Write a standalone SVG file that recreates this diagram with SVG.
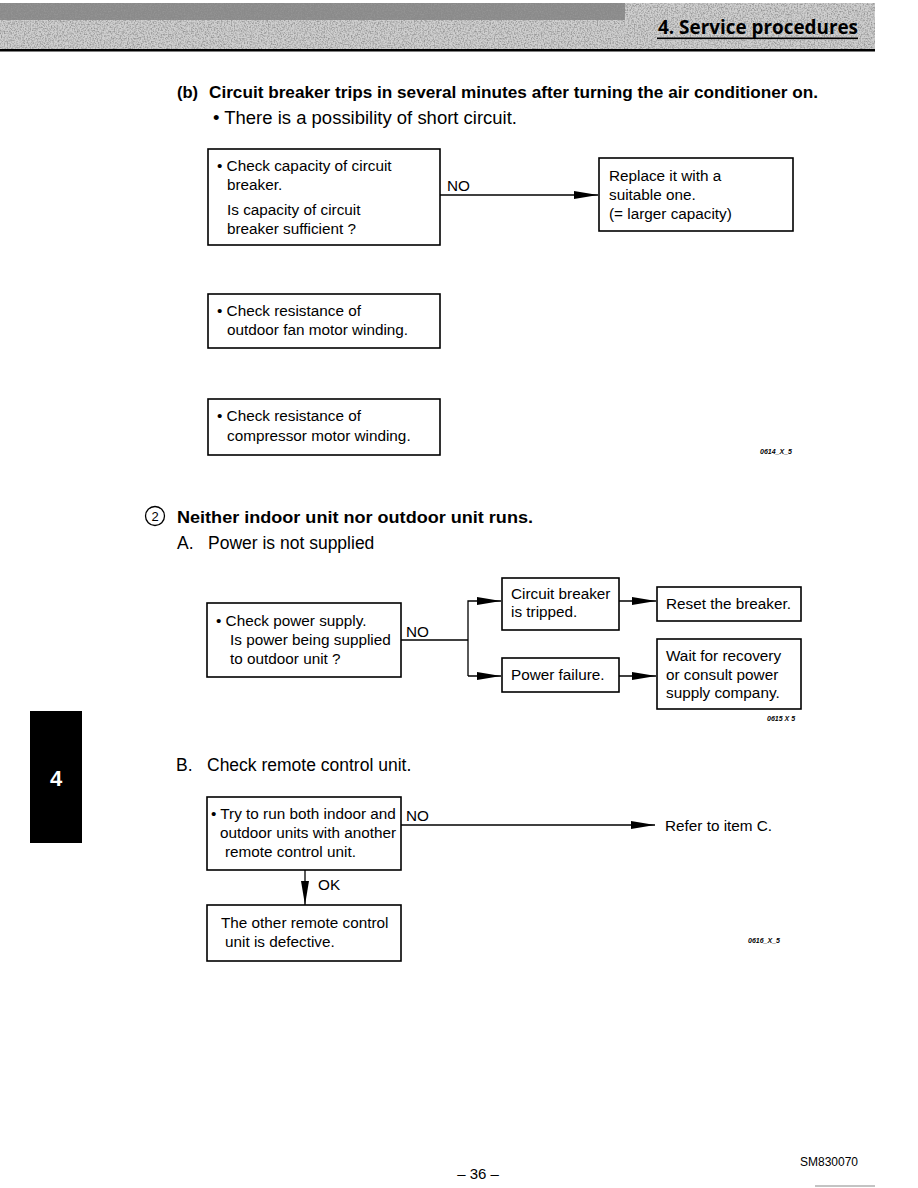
<svg xmlns="http://www.w3.org/2000/svg" width="918" height="1188" viewBox="0 0 918 1188">
<defs>
<style>
.t{font-family:"Liberation Sans",Arial,sans-serif;font-size:15.3px;fill:#000}
.h{font-family:"Liberation Sans",Arial,sans-serif;font-size:17.5px;fill:#000}
.b{font-family:"Liberation Sans",Arial,sans-serif;font-size:16.5px;font-weight:bold;fill:#000}
.s{font-family:"Liberation Sans",Arial,sans-serif;font-size:7px;font-weight:bold;font-style:italic;fill:#000}
.box{fill:#fff;stroke:#000;stroke-width:1.6}
.ln{fill:none;stroke:#000;stroke-width:1.3}
</style>
<marker id="ar" markerUnits="userSpaceOnUse" markerWidth="24" markerHeight="10" refX="24" refY="5" orient="auto">
<path d="M0,1 L24,5 L0,9 Z" fill="#000"/>
</marker>
<filter id="noise" x="0" y="0" width="100%" height="100%">
<feTurbulence type="fractalNoise" baseFrequency="0.7" numOctaves="2" seed="3" result="n"/>
<feColorMatrix in="n" type="matrix" values="0 0 0 0 0.3  0 0 0 0 0.3  0 0 0 0 0.3  2.5 0 0 0 -1.0"/>
</filter>
</defs>
<rect width="918" height="1188" fill="#fff"/>
<g id="header">
<rect x="0" y="3" width="875" height="47" fill="#cfcfcf"/>
<rect x="0" y="3" width="625" height="17" fill="#8a8a8a"/>
<rect x="0" y="3" width="875" height="47" filter="url(#noise)"/>
<rect x="0" y="49" width="875" height="2.5" fill="#000"/>
<text x="858" y="34" text-anchor="end" font-family="'Open Sans','Liberation Sans',sans-serif" font-size="20" font-weight="bold" fill="#000" textLength="200" lengthAdjust="spacingAndGlyphs">4. Service procedures</text>
<rect x="657" y="37.5" width="201" height="1.6" fill="#000"/>
</g>
<g id="tab">
<rect x="30" y="711" width="52" height="132" fill="#000"/>
<text x="56" y="786" text-anchor="middle" font-family="'Liberation Sans',Arial,sans-serif" font-size="22" font-weight="bold" fill="#fff">4</text>
</g>
<g id="headings">
<text class="b" x="177" y="98">(b)</text>
<text class="b" x="209" y="98" textLength="609" lengthAdjust="spacingAndGlyphs">Circuit breaker trips in several minutes after turning the air conditioner on.</text>
<text class="h" x="213" y="124" textLength="304" lengthAdjust="spacingAndGlyphs">• There is a possibility of short circuit.</text>
<circle cx="155" cy="516" r="9.5" fill="none" stroke="#000" stroke-width="1.3"/>
<text x="155" y="521" text-anchor="middle" font-family="'Liberation Sans',Arial,sans-serif" font-size="13" fill="#000">2</text>
<text class="b" x="177" y="523" textLength="356" lengthAdjust="spacingAndGlyphs">Neither indoor unit nor outdoor unit runs.</text>
<text class="h" x="177" y="549">A.</text>
<text class="h" x="208" y="549">Power is not supplied</text>
<text class="h" x="176" y="771">B.</text>
<text class="h" x="207" y="771">Check remote control unit.</text>
</g>
<g id="connectors">
<line class="ln" x1="440" y1="195" x2="598" y2="195" marker-end="url(#ar)"/>
<polyline class="ln" points="401,640 468,640"/>
<polyline class="ln" points="468,676 468,601 501,601" marker-end="url(#ar)"/>
<line class="ln" x1="468" y1="676" x2="501" y2="676" marker-end="url(#ar)"/>
<line class="ln" x1="619" y1="601" x2="656" y2="601" marker-end="url(#ar)"/>
<line class="ln" x1="619" y1="676" x2="656" y2="676" marker-end="url(#ar)"/>
<line class="ln" x1="401" y1="825" x2="655" y2="825" marker-end="url(#ar)"/>
<line class="ln" x1="305" y1="870" x2="305" y2="905" marker-end="url(#ar)"/>
<text class="t" x="447" y="191">NO</text>
<text class="t" x="406" y="637">NO</text>
<text class="t" x="406" y="821">NO</text>
<text class="t" x="318" y="890">OK</text>
<text class="t" x="665" y="831">Refer to item C.</text>
</g>
<g id="n1">
<rect class="box" x="208" y="149" width="232" height="96"/>
<text class="t" x="217" y="171">• Check capacity of circuit</text>
<text class="t" x="227" y="190">breaker.</text>
<text class="t" x="227" y="215">Is capacity of circuit</text>
<text class="t" x="227" y="234">breaker sufficient ?</text>
</g>
<g id="n2">
<rect class="box" x="599" y="158" width="194" height="73"/>
<text class="t" x="609" y="181">Replace it with a</text>
<text class="t" x="609" y="200">suitable one.</text>
<text class="t" x="609" y="219">(= larger capacity)</text>
</g>
<g id="n3">
<rect class="box" x="208" y="294" width="232" height="54"/>
<text class="t" x="217" y="316">• Check resistance of</text>
<text class="t" x="227" y="335">outdoor fan motor winding.</text>
</g>
<g id="n4">
<rect class="box" x="208" y="399" width="232" height="56"/>
<text class="t" x="217" y="421">• Check resistance of</text>
<text class="t" x="227" y="441">compressor motor winding.</text>
</g>
<text class="s" x="760" y="454">0614_X_5</text>
<g id="n5">
<rect class="box" x="207" y="603" width="194" height="74"/>
<text class="t" x="216" y="626">• Check power supply.</text>
<text class="t" x="230" y="645">Is power being supplied</text>
<text class="t" x="230" y="664">to outdoor unit ?</text>
</g>
<g id="n6">
<rect class="box" x="502" y="578" width="117" height="52"/>
<text class="t" x="511" y="599">Circuit breaker</text>
<text class="t" x="511" y="617">is tripped.</text>
</g>
<g id="n7">
<rect class="box" x="502" y="658" width="117" height="34"/>
<text class="t" x="511" y="680">Power failure.</text>
</g>
<g id="n8">
<rect class="box" x="657" y="587" width="144" height="34"/>
<text class="t" x="666" y="609">Reset the breaker.</text>
</g>
<g id="n9">
<rect class="box" x="657" y="639" width="144" height="70"/>
<text class="t" x="666" y="661">Wait for recovery</text>
<text class="t" x="666" y="680">or consult power</text>
<text class="t" x="666" y="698">supply company.</text>
</g>
<text class="s" x="767" y="721">0615 X 5</text>
<g id="n10">
<rect class="box" x="207" y="797" width="194" height="73"/>
<text class="t" x="211" y="819">• Try to run both indoor and</text>
<text class="t" x="220" y="838">outdoor units with another</text>
<text class="t" x="225" y="857">remote control unit.</text>
</g>
<g id="n11">
<rect class="box" x="207" y="905" width="194" height="56"/>
<text class="t" x="221" y="928">The other remote control</text>
<text class="t" x="225" y="947">unit is defective.</text>
</g>
<text class="s" x="748" y="943">0616_X_5</text>
<g id="footer">
<text x="478" y="1179" text-anchor="middle" font-family="'Liberation Sans',Arial,sans-serif" font-size="15" fill="#000">– 36 –</text>
<text x="800" y="1166" font-family="'Liberation Sans',Arial,sans-serif" font-size="12" fill="#000">SM830070</text>
<line x1="815" y1="1186" x2="875" y2="1186" stroke="#888" stroke-width="1"/>
</g>
</svg>
